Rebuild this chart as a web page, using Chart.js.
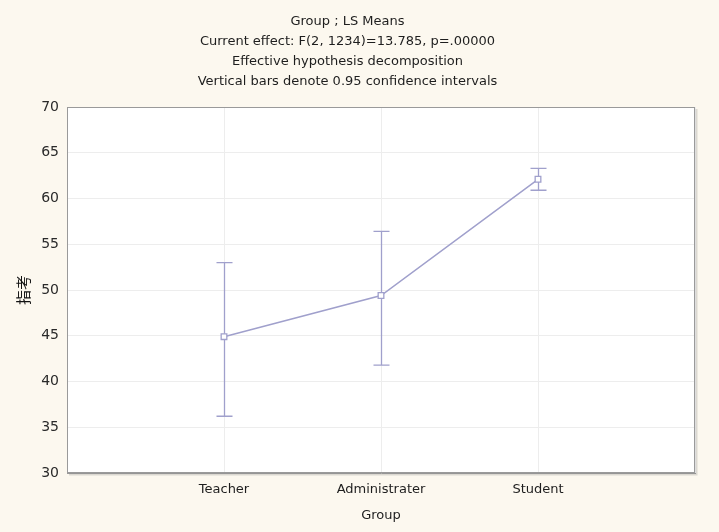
<!DOCTYPE html>
<html>
<head>
<meta charset="utf-8">
<script src="https://cdn.jsdelivr.net/npm/chart.js@4/dist/chart.umd.min.js"></script>
<style>
  html, body { margin: 0; padding: 0; background: #fcf8ef; }
  #wrap { width: 719px; height: 532px; }
</style>
</head>
<body>
<div id="wrap"><canvas id="c" width="719" height="532"></canvas></div>
<script>
const titleLines = [
  'Group ; LS Means',
  'Current effect: F(2, 1234)=13.785, p=.00000',
  'Effective hypothesis decomposition',
  'Vertical bars denote 0.95 confidence intervals'
];
const categories = ['Teacher', 'Administrater', 'Student'];
const means = [44.9, 49.4, 62.1];
const upper = [53.0, 56.4, 63.3];
const lower = [36.2, 41.8, 60.9];
const yTicks = [30, 35, 40, 45, 50, 55, 60, 65, 70];
const xTitle = 'Group';
const yTitle = '指考';

const LINE = '#a0a0cc';
const FONT = "'DejaVu Sans', sans-serif";

const labels = ['', ...categories, ''];
const pad = v => [null, ...v, null];

const bgPlugin = {
  id: 'bg',
  beforeDraw(chart) {
    const { ctx, chartArea: a } = chart;
    ctx.save();
    ctx.fillStyle = '#fcf8ef';
    ctx.fillRect(0, 0, chart.width, chart.height);
    ctx.fillStyle = '#ffffff';
    ctx.fillRect(a.left, a.top, a.right - a.left, a.bottom - a.top);
    ctx.restore();
  },
  afterDraw(chart) {
    const { ctx, chartArea: a } = chart;
    ctx.save();
    ctx.strokeStyle = 'rgba(120,120,120,0.25)';
    ctx.lineWidth = 2;
    ctx.beginPath();
    ctx.moveTo(a.right + 1.5, a.top + 2);
    ctx.lineTo(a.right + 1.5, a.bottom + 1.5);
    ctx.lineTo(a.left + 2, a.bottom + 1.5);
    ctx.stroke();
    ctx.strokeStyle = '#9a9a9a';
    ctx.lineWidth = 1;
    ctx.strokeRect(a.left + 0.5, a.top + 0.5, a.right - a.left - 1, a.bottom - a.top - 1);
    ctx.restore();
  }
};

const errPlugin = {
  id: 'errbars',
  beforeDatasetsDraw(chart) {
    const { ctx } = chart;
    const xs = chart.scales.x, ys = chart.scales.y;
    ctx.save();
    ctx.strokeStyle = LINE;
    ctx.lineWidth = 1.3;
    categories.forEach((c, i) => {
      const x = Math.round(xs.getPixelForValue(i + 1)) + 0.5;
      const yu = ys.getPixelForValue(upper[i]);
      const yl = ys.getPixelForValue(lower[i]);
      ctx.beginPath();
      ctx.moveTo(x, yu); ctx.lineTo(x, yl);
      ctx.moveTo(x - 8, yu); ctx.lineTo(x + 8, yu);
      ctx.moveTo(x - 8, yl); ctx.lineTo(x + 8, yl);
      ctx.stroke();
    });
    ctx.restore();
  }
};

new Chart(document.getElementById('c'), {
  type: 'line',
  data: {
    labels: labels,
    datasets: [{
      data: pad(means),
      borderColor: LINE,
      borderWidth: 1.5,
      pointStyle: 'rect',
      pointRadius: 4,
      pointBorderWidth: 1.3,
      pointBackgroundColor: '#ffffff',
      pointBorderColor: LINE,
      tension: 0,
      spanGaps: false
    }]
  },
  options: {
    responsive: false,
    animation: false,
    layout: { padding: { left: 0, right: 24, top: 0, bottom: 0 } },
    plugins: {
      legend: { display: false },
      tooltip: { enabled: false },
      title: {
        display: true,
        text: titleLines,
        color: '#1e1e1e',
        font: { family: FONT, size: 13, weight: 'normal', lineHeight: 20 / 13 },
        padding: { top: 12, bottom: 15 }
      }
    },
    scales: {
      x: {
        type: 'category',
        offset: false,
        grid: { color: '#ededed', drawTicks: false },
        border: { color: '#9a9a9a' },
        ticks: {
          color: '#1e1e1e',
          font: { family: FONT, size: 13 },
          padding: 9,
          autoSkip: false,
          maxRotation: 0
        },
        title: {
          display: true,
          text: xTitle,
          color: '#1e1e1e',
          font: { family: FONT, size: 13 },
          padding: { top: 4, bottom: 9 }
        },
        afterFit(s) { s.height = 59; }
      },
      y: {
        min: 30,
        max: 70,
        afterBuildTicks(s) { s.ticks = yTicks.map(v => ({ value: v })); },
        grid: { color: '#ededed', drawTicks: false },
        border: { color: '#9a9a9a' },
        ticks: {
          color: '#2a2a2a',
          font: { family: FONT, size: 14 },
          padding: 8
        },
        title: {
          display: true,
          text: yTitle,
          color: '#111',
          font: { family: "'Noto Sans CJK TC', sans-serif", size: 15 },
          padding: { top: 14, bottom: 0 }
        },
        afterFit(s) { s.width = 67; }
      }
    }
  },
  plugins: [bgPlugin, errPlugin]
});
</script>
</body>
</html>
